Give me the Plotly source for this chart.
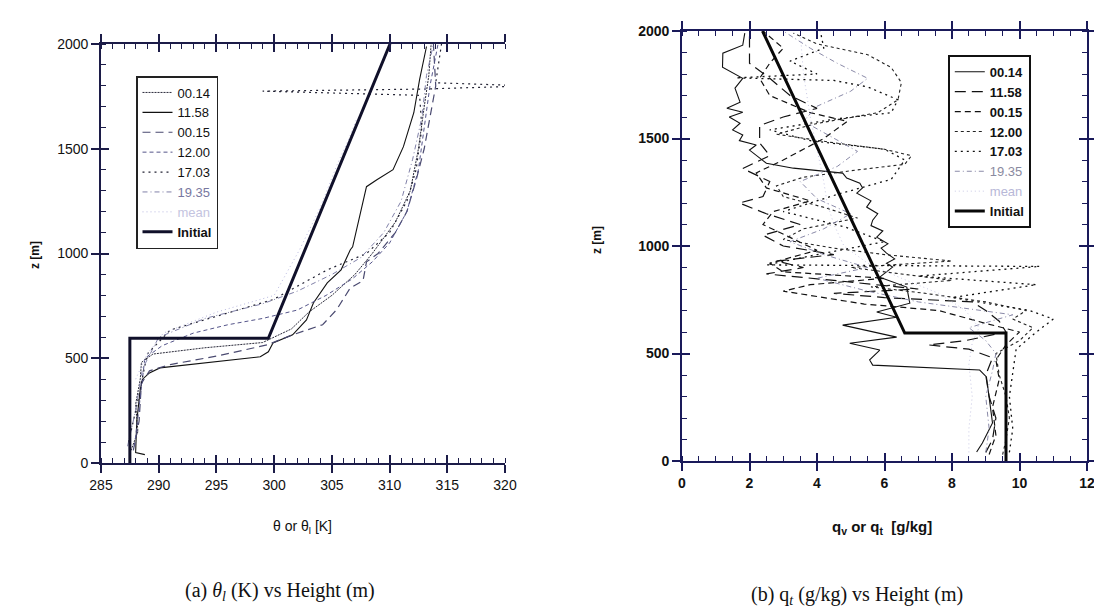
import plotly.graph_objects as go

W, H = 1094, 613

# ---------------- left panel: theta_l [K] vs z [m] ----------------
th_0014 = [287.6, 288.2, 288.0, 288.4, 288.5, 289.5, 294.0, 299.0, 301.5, 303.0, 305.0, 307.0, 308.5, 310.5, 311.8, 312.5, 313.0, 313.4, 313.6]
z_th_0014 = [60, 150, 280, 400, 480, 520, 550, 575, 640, 720, 800, 900, 1000, 1150, 1300, 1500, 1700, 1850, 2000]

th_1158 = [288.8, 288.0, 288.1, 288.4, 288.6, 289.2, 290.1, 298.8, 299.5, 299.9, 301.6, 302.8, 303.4, 304.6, 305.8, 306.6, 306.8, 307.4, 308.0, 308.9, 310.3, 311.2, 312.1, 312.6, 313.2]
z_th_1158 = [40, 50, 200, 350, 400, 430, 454, 507, 531, 573, 612, 683, 764, 860, 922, 1018, 1032, 1175, 1319, 1352, 1400, 1510, 1672, 1830, 1988]

th_0015 = [287.8, 288.3, 288.5, 289.2, 291.0, 295.0, 299.4, 301.6, 304.2, 305.4, 306.6, 307.7, 308.0, 309.0, 310.5, 311.5, 312.3, 313.0, 313.5, 314.0, 313.8]
z_th_0015 = [60, 200, 380, 440, 470, 510, 564, 612, 660, 731, 836, 870, 960, 1000, 1100, 1200, 1350, 1500, 1650, 1800, 2000]

th_1200 = [287.9, 288.4, 288.8, 290.3, 293.0, 296.0, 299.0, 302.0, 304.5, 306.8, 308.5, 310.0, 311.5, 312.5, 313.0, 313.5, 314.2]
z_th_1200 = [80, 300, 500, 560, 620, 660, 690, 730, 800, 880, 960, 1050, 1200, 1400, 1600, 1800, 2000]

th_1703 = [287.4, 288.2, 289.0, 291.0, 295.0, 299.9, 304.6, 308.0, 310.0, 311.5, 312.3, 312.8, 312.6, 299.0, 313.0, 322.0, 314.0, 314.5]
z_th_1703 = [100, 300, 520, 635, 700, 780, 922, 1000, 1100, 1250, 1400, 1600, 1755, 1775, 1785, 1800, 1815, 2000]

th_1935 = [287.3, 288.0, 288.6, 290.0, 294.0, 299.0, 302.0, 305.0, 307.5, 309.5, 311.0, 312.0, 312.8, 313.2, 313.8]
z_th_1935 = [80, 250, 450, 600, 690, 760, 820, 900, 980, 1100, 1250, 1450, 1650, 1850, 2000]

th_mean = [288.0, 289.0, 290.4, 295.0, 300.0, 302.2, 304.0, 305.5, 306.5, 307.2]
z_th_mean = [400, 520, 620, 720, 800, 1018, 1220, 1430, 1550, 1650]

th_init = [287.5, 287.5, 299.5, 310.04]
z_th_init = [0, 595, 595, 2000]

# ---------------- right panel: q [g/kg] vs z [m] ----------------
q_0014 = [8.73, 8.9, 9.2, 9.11, 9.02, 8.82, 5.65, 5.56, 5.86, 4.97, 6.36, 4.76, 6.36, 5.77, 6.36, 6.75, 6.66, 5.86, 6.24, 6.06, 6.3,
          6.06, 5.9, 6.1, 5.77, 5.95, 5.6, 5.65, 5.8, 5.47, 5.6, 5.18, 5.35, 5.27, 4.88, 4.76, 3.3, 2.5, 2.0, 2.2, 1.7, 1.8, 1.5,
          1.72, 1.4, 1.8, 1.33, 1.72, 1.57, 1.8, 1.2, 1.21, 1.8, 1.86]
z_q_0014 = [42, 84, 177, 284, 391, 423, 446, 470, 516, 548, 576, 632, 669, 693, 716, 734, 809, 855, 902, 920, 940,
            967, 990, 1010, 1041, 1070, 1095, 1120, 1150, 1181, 1210, 1246, 1270, 1292, 1316, 1339, 1362, 1385, 1446, 1470, 1490, 1516, 1540,
            1571, 1600, 1622, 1641, 1669, 1734, 1780, 1832, 1897, 1934, 1990]

q_1158 = [9.0, 9.2, 9.3, 9.1, 9.0, 9.2, 8.5, 7.3, 8.4, 9.6, 9.4, 9.0, 8.6, 6.0, 4.5, 7.0, 4.5, 2.5, 3.6, 2.8, 4.5, 3.0, 2.4, 3.5, 2.5,
          1.7, 2.4, 2.6, 1.8, 2.6, 2.3, 2.3, 3.0, 4.0, 3.2, 2.6, 2.0, 2.0]
z_q_1158 = [40, 100, 200, 300, 400, 480, 520, 540, 560, 600, 650, 700, 740, 760, 780, 800, 840, 870, 900, 930, 960, 1000, 1050, 1100, 1150,
            1200, 1230, 1300, 1360, 1420, 1480, 1560, 1600, 1640, 1700, 1780, 1850, 2000]

q_0015 = [9.1, 9.3, 9.2, 9.4, 9.3, 9.6, 10.0, 9.0, 7.6, 5.4, 3.0, 3.8, 6.0, 3.0, 2.6, 4.0, 3.2, 2.4, 2.7, 3.8, 2.5, 2.2, 3.0, 4.2, 4.9,
          3.8, 2.6, 2.3, 2.6, 3.0, 2.4]
z_q_0015 = [30, 120, 250, 380, 470, 540, 600, 640, 700, 730, 790, 820, 850, 880, 920, 980, 1040, 1100, 1160, 1210, 1270, 1340, 1400, 1500, 1580,
            1620, 1700, 1780, 1850, 1920, 2000]

q_1200 = [9.5, 9.6, 9.7, 9.6, 9.4, 9.3, 10.0, 10.4, 9.8, 10.2, 9.0, 7.2, 5.6, 8.0, 6.5, 5.0, 8.0, 6.0, 4.5, 3.0, 3.6, 5.2, 4.2, 3.0,
          2.8, 3.6, 5.0, 6.6, 6.8, 6.0, 4.5, 2.8, 4.0, 5.8, 6.4, 6.5, 6.2, 5.5, 4.0, 3.3]
z_q_1200 = [30, 100, 200, 300, 400, 500, 560, 620, 660, 700, 740, 780, 810, 840, 870, 900, 930, 960, 990, 1030, 1080, 1130, 1180, 1230,
            1280, 1320, 1350, 1380, 1420, 1450, 1480, 1520, 1570, 1620, 1680, 1760, 1830, 1890, 1940, 1990]

q_1703 = [9.7, 9.8, 9.7, 9.8, 9.9, 10.5, 11.0, 10.3, 8.0, 10.5, 7.0, 10.6, 2.5, 4.0, 6.0, 4.8, 3.0, 4.6, 6.2, 6.6, 6.0, 3.8, 2.6,
          4.5, 6.2, 6.4, 5.5, 4.5, 1.6, 4.0, 3.2, 4.2, 4.1]
z_q_1703 = [40, 150, 300, 420, 520, 600, 660, 700, 760, 820, 860, 905, 912, 960, 1020, 1090, 1160, 1240, 1310, 1400, 1450, 1490, 1540,
            1590, 1620, 1680, 1740, 1770, 1782, 1800, 1860, 1920, 2000]

q_1935 = [9.0, 9.1, 9.0, 9.2, 9.3, 9.0, 8.5, 9.8, 7.0, 5.5, 4.0, 5.5, 4.2, 3.2, 4.2, 5.0, 4.0, 3.5, 4.6, 5.2, 4.4, 3.6, 4.0, 5.0,
          5.5, 4.6, 3.8, 3.0]
z_q_1935 = [40, 150, 300, 420, 500, 560, 620, 680, 740, 790, 850, 900, 960, 1020, 1080, 1150, 1220, 1300, 1370, 1440, 1510, 1580, 1650, 1720,
            1780, 1850, 1920, 2000]

q_mean = [8.5, 8.5, 8.6, 8.5, 8.6, 8.8, 8.4, 7.6, 6.5, 5.5, 4.8, 4.5, 4.3, 4.2, 4.0, 3.8, 3.6, 3.5]
z_q_mean = [40, 150, 300, 450, 550, 620, 700, 780, 850, 920, 1000, 1100, 1200, 1300, 1450, 1600, 1800, 2000]

q_init = [9.6, 9.6, 6.6, 2.385]
z_q_init = [0, 595, 595, 2000]

# ---------------- styles ----------------
left_series = [
    ("00.14", th_0014, z_th_0014, dict(color="#2a2a3a", width=1, dash="2px,1px")),
    ("11.58", th_1158, z_th_1158, dict(color="#111111", width=1.1)),
    ("00.15", th_0015, z_th_0015, dict(color="#4a4a70", width=1.2, dash="8px,5px")),
    ("12.00", th_1200, z_th_1200, dict(color="#55558a", width=1, dash="4px,3px")),
    ("17.03", th_1703, z_th_1703, dict(color="#222233", width=1.2, dash="2px,4px")),
    ("<span style='color:#7878a0'>19.35</span>", th_1935, z_th_1935, dict(color="#8080a8", width=1, dash="5px,3px,1px,3px")),
    ("<span style='color:#c4c4e0'>mean</span>", th_mean, z_th_mean, dict(color="#b8b8e0", width=1, dash="1px,3px")),
    ("<b>Initial</b>", th_init, z_th_init, dict(color="#10102a", width=3)),
]
right_series = [
    ("<b>00.14</b>", q_0014, z_q_0014, dict(color="#111111", width=1.1)),
    ("<b>11.58</b>", q_1158, z_q_1158, dict(color="#111111", width=1.2, dash="11px,6px")),
    ("<b>00.15</b>", q_0015, z_q_0015, dict(color="#111111", width=1.2, dash="6px,4px")),
    ("<b>12.00</b>", q_1200, z_q_1200, dict(color="#222222", width=1.1, dash="3px,3px")),
    ("<b>17.03</b>", q_1703, z_q_1703, dict(color="#111111", width=1.3, dash="2px,4px")),
    ("<span style='color:#8a8aa0'>19.35</span>", q_1935, z_q_1935, dict(color="#8a8aa8", width=1, dash="5px,3px,1px,3px")),
    ("<span style='color:#b8b8d8'>mean</span>", q_mean, z_q_mean, dict(color="#c8c8e4", width=1, dash="1px,3px")),
    ("<b>Initial</b>", q_init, z_q_init, dict(color="#080808", width=3)),
]

fig = go.Figure()
for name, xs, zs, ln in left_series:
    fig.add_trace(go.Scatter(x=xs, y=zs, mode="lines", name=name, line=ln,
                             xaxis="x", yaxis="y", legend="legend", hoverinfo="skip"))
for name, xs, zs, ln in right_series:
    fig.add_trace(go.Scatter(x=xs, y=zs, mode="lines", name=name, line=ln,
                             xaxis="x2", yaxis="y2", legend="legend2", hoverinfo="skip"))
# empty traces to hold the overlay tick axes
fig.add_trace(go.Scatter(x=[], y=[], xaxis="x3", yaxis="y3", showlegend=False))
fig.add_trace(go.Scatter(x=[], y=[], xaxis="x4", yaxis="y4", showlegend=False))

LX = [101 / W, 505 / W]
LY = [1 - 463 / H, 1 - 44 / H]
RX = [682 / W, 1087 / W]
RY = [1 - 461 / H, 1 - 31 / H]

LFONT = dict(family="Liberation Sans, Arial, sans-serif", size=14, color="#111111")
RFONT = dict(family="Liberation Sans, Arial, sans-serif", size=14, color="#111111", weight="bold")
LCOL = "#1c1c48"
RCOL = "#1a1a5a"


def main_axis(domain, rng, dtick, minor_dtick, anchor, col, mirror, font):
    return dict(domain=domain, range=rng, anchor=anchor, dtick=dtick, tick0=0, automargin=False,
                showgrid=False, zeroline=False, showline=True, linecolor=col, linewidth=1.6,
                mirror=mirror, ticks="outside", ticklen=8, tickwidth=1.5, tickcolor=col,
                minor=dict(dtick=minor_dtick, ticks="inside", ticklen=5, tickwidth=1.2,
                           tickcolor=col, showgrid=False),
                tickfont=font, ticklabeloverflow="allow", fixedrange=True)


def overlay_axis(domain, rng, dtick, anchor, overlaying, col, mirror):
    return dict(domain=domain, range=rng, anchor=anchor, overlaying=overlaying, dtick=dtick, tick0=0,
                automargin=False, showgrid=False, zeroline=False, showline=False, mirror=mirror,
                ticks="inside", ticklen=8, tickwidth=1.5, tickcolor=col,
                showticklabels=False, fixedrange=True)


fig.update_layout(
    width=W, height=H,
    margin=dict(l=0, r=0, t=0, b=0, autoexpand=False),
    paper_bgcolor="white", plot_bgcolor="rgba(0,0,0,0)",
    xaxis=main_axis(LX, [285, 320], 5, 1, "y", LCOL, "allticks", LFONT),
    yaxis=main_axis(LY, [0, 2000], 500, 100, "x", LCOL, False, LFONT),
    xaxis2=main_axis(RX, [0, 12], 2, 0.5, "y2", RCOL, "allticks", RFONT),
    yaxis2=main_axis(RY, [0, 2000], 500, 100, "x2", RCOL, "allticks", RFONT),
    xaxis3=overlay_axis(LX, [285, 320], 5, "y3", "x", LCOL, "allticks"),
    yaxis3=overlay_axis(LY, [0, 2000], 500, "x3", "y", LCOL, False),
    xaxis4=overlay_axis(RX, [0, 12], 2, "y4", "x2", RCOL, "allticks"),
    yaxis4=overlay_axis(RY, [0, 2000], 500, "x4", "y2", RCOL, "allticks"),
    legend=dict(x=136 / W, y=1 - 76 / H, xanchor="left", yanchor="top",
                bgcolor="white", bordercolor="#222222", borderwidth=1.5,
                font=dict(family="Liberation Sans, Arial, sans-serif", size=13, color="#111111"),
                tracegroupgap=0, itemwidth=30),
    legend2=dict(x=948 / W, y=1 - 55 / H, xanchor="left", yanchor="top",
                 bgcolor="white", bordercolor="#111111", borderwidth=1.8,
                 font=dict(family="Liberation Sans, Arial, sans-serif", size=13, color="#111111"),
                 tracegroupgap=0, itemwidth=30),
    showlegend=True,
)

ann_font = dict(family="Liberation Sans, Arial, sans-serif", size=12, color="#111111")
cap_font = dict(family="Liberation Serif, Times New Roman, serif", size=20, color="#111111")
annotations = [
    dict(text="<b>z [m]</b>", x=35 / W, y=1 - 255 / H, textangle=-90, font=ann_font),
    dict(text="<b>z [m]</b>", x=597 / W, y=1 - 240 / H, textangle=-90, font=ann_font),
    dict(text="θ or θ<sub>l</sub> [K]", x=302 / W, y=1 - 527 / H, font=dict(ann_font, size=14)),
    dict(text="<b>q<sub>v</sub> or q<sub>t</sub>  [g/kg]</b>", x=882 / W, y=1 - 527 / H, font=dict(ann_font, size=15)),
    dict(text="(a) <i>θ<sub>l</sub></i> (K) vs Height (m)", x=280 / W, y=1 - 591 / H, font=cap_font),
    dict(text="(b) q<sub><i>t</i></sub> (g/kg) vs Height (m)", x=857 / W, y=1 - 595 / H, font=cap_font),
]
for a in annotations:
    fig.add_annotation(xref="paper", yref="paper", showarrow=False, xanchor="center", yanchor="middle", **a)

fig.write_html("out.html")
